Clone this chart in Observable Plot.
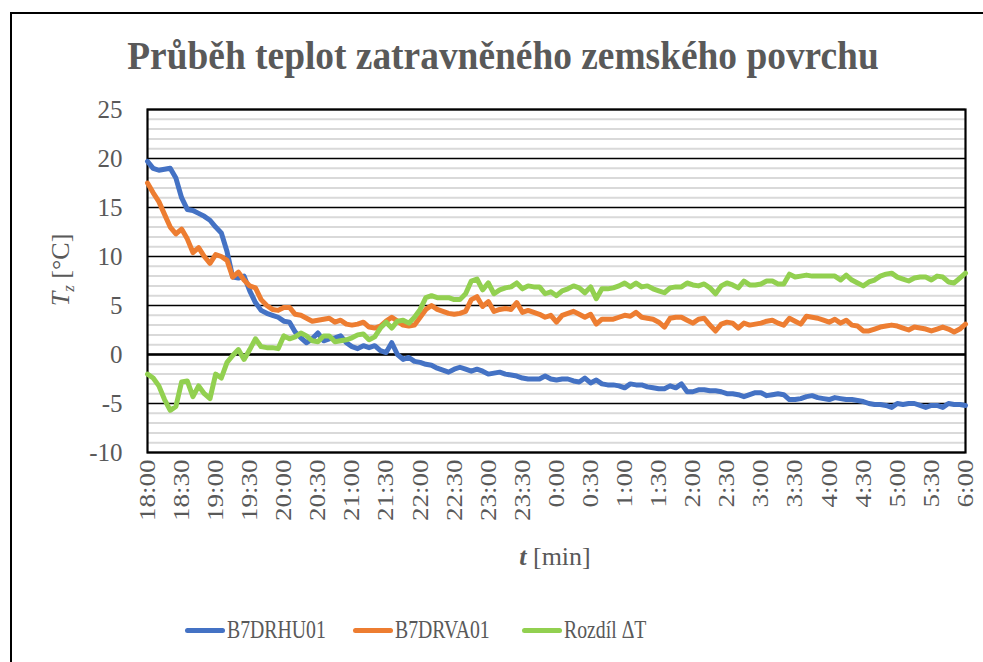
<!DOCTYPE html>
<html>
<head>
<meta charset="utf-8">
<script src="https://cdn.jsdelivr.net/npm/d3@7"></script>
<script src="https://cdn.jsdelivr.net/npm/@observablehq/plot@0.6"></script>
<style>
  body { margin: 0; background: #fff; }
  #wrap { position: relative; width: 983px; height: 662px; overflow: hidden; font-family: "Liberation Serif", "Times New Roman", serif; color: #595959; }
  #wrap svg { position: absolute; left: 0; top: 0; }
  #border { position: absolute; left: 10px; top: 12px; width: 1000px; height: 700px; border: 2.5px solid #000; box-sizing: border-box; }
  #title { position: absolute; left: 0; width: 1006px; top: 35px; text-align: center; font-weight: bold; font-size: 40px; line-height: 42px; white-space: nowrap; transform: scaleX(0.935); transform-origin: 503px 0; }
  #ylabel { position: absolute; left: 62px; top: 270px; transform: translate(-50%, -50%) rotate(-90deg); font-size: 26px; white-space: nowrap; }
  #ylabel sub { font-size: 17px; vertical-align: -5px; }
  #xlabel { position: absolute; left: 555px; top: 542px; transform: translateX(-50%); font-size: 26px; white-space: nowrap; }
  .leg { position: absolute; top: 615px; height: 30px; }
  .leg .sw { position: absolute; left: 0; top: 13px; width: 40px; height: 5px; border-radius: 3px; }
  .leg .lab { position: absolute; left: 42px; top: 0; font-size: 26px; line-height: 30px; white-space: nowrap; transform: scaleX(0.76); transform-origin: 0 0; }
</style>
</head>
<body>
<div id="wrap">
  <div id="border"></div>
  <div id="title"></div>
  <div id="ylabel"><i>T</i><sub><i>z</i></sub> [°C]</div>
  <div id="xlabel"><b><i>t</i></b> [min]</div>
</div>
<script>
const titleText = "Průběh teplot zatravněného zemského povrchu";
const seriesNames = ["B7DRHU01", "B7DRVA01", "Rozdíl ΔT"];
const seriesColors = ["#4472C4", "#ED7D31", "#92D050"];
const tickLabels = ["18:00","18:30","19:00","19:30","20:00","20:30","21:00","21:30","22:00","22:30","23:00","23:30","0:00","0:30","1:00","1:30","2:00","2:30","3:00","3:30","4:00","4:30","5:00","5:30","6:00"];
const yMajor = [-10, -5, 0, 5, 10, 15, 20, 25];

// minutes after 18:00, one reading every 5 minutes
const minutes = d3.range(0, 721, 5);

const b7drhu01 = [
  19.7, 19.0, 18.8, 18.9, 19.0, 18.0, 16.0, 14.8, 14.7, 14.4,
  14.1, 13.7, 13.0, 12.4, 10.5, 7.9, 7.8, 8.0, 6.5, 5.3,
  4.5, 4.2, 4.0, 3.8, 3.4, 3.3, 2.3, 1.7, 1.2, 1.6,
  2.2, 1.4, 1.6, 1.7, 1.9, 1.2, 0.8, 0.6, 0.9, 0.7,
  0.9, 0.4, 0.2, 1.2, 0.0, -0.5, -0.3, -0.7, -0.8, -1.0,
  -1.1, -1.4, -1.6, -1.8, -1.5, -1.3, -1.5, -1.7, -1.5, -1.7,
  -2.0, -1.9, -1.8, -2.0, -2.1, -2.2, -2.4, -2.5, -2.5, -2.5,
  -2.2, -2.5, -2.6, -2.5, -2.5, -2.7, -2.8, -2.4, -2.9, -2.6,
  -3.0, -3.1, -3.1, -3.2, -3.4, -3.0, -3.1, -3.1, -3.3, -3.4,
  -3.5, -3.5, -3.2, -3.4, -3.0, -3.8, -3.8, -3.6, -3.6, -3.7,
  -3.7, -3.8, -4.0, -4.0, -4.1, -4.3, -4.1, -3.9, -3.9, -4.2,
  -4.1, -4.0, -4.1, -4.6, -4.6, -4.5, -4.3, -4.2, -4.4, -4.5,
  -4.6, -4.4, -4.5, -4.6, -4.6, -4.7, -4.8, -5.0, -5.1, -5.1,
  -5.2, -5.4, -5.0, -5.1, -5.0, -5.0, -5.2, -5.4, -5.2, -5.2,
  -5.4, -5.0, -5.1, -5.1, -5.2
];

const b7drva01 = [
  17.5, 16.5, 15.6, 14.3, 13.0, 12.3, 12.8, 11.8, 10.4, 10.9,
  10.0, 9.3, 10.2, 10.0, 9.6, 7.9, 8.4, 7.6, 7.0, 6.8,
  5.6, 5.0, 4.6, 4.5, 4.8, 4.8, 4.1, 4.0, 3.7, 3.4,
  3.5, 3.6, 3.7, 3.3, 3.5, 3.1, 3.0, 3.1, 3.3, 2.8,
  2.7, 2.9, 3.4, 3.8, 3.4, 3.0, 2.9, 3.0, 3.8, 4.6,
  5.0, 4.6, 4.4, 4.2, 4.1, 4.2, 4.4, 5.6, 5.9, 4.9,
  5.4, 4.4, 4.6, 4.7, 4.6, 5.3, 4.3, 4.5, 4.3, 4.1,
  3.8, 4.0, 3.3, 4.0, 4.2, 4.4, 4.1, 3.8, 4.1, 3.1,
  3.6, 3.6, 3.6, 3.8, 4.0, 3.9, 4.3, 3.8, 3.7, 3.6,
  3.3, 2.8, 3.7, 3.8, 3.8, 3.5, 3.2, 3.6, 3.7, 3.0,
  2.4, 3.1, 3.3, 3.2, 2.7, 3.2, 3.0, 3.1, 3.2, 3.4,
  3.5, 3.2, 3.0, 3.7, 3.4, 3.1, 3.9, 3.8, 3.7, 3.5,
  3.3, 3.6, 3.2, 3.5, 3.0, 2.9, 2.4, 2.4, 2.6, 2.8,
  2.9, 3.0, 2.9, 2.7, 2.5, 2.8, 2.7, 2.6, 2.4, 2.6,
  2.8, 2.6, 2.3, 2.6, 3.1
];

const rozdil = [
  -2.0, -2.4, -3.2, -4.6, -5.7, -5.3, -2.8, -2.7, -4.3, -3.2,
  -4.0, -4.5, -2.0, -2.4, -0.8, -0.1, 0.5, -0.5, 0.5, 1.6,
  0.8, 0.7, 0.7, 0.6, 1.9, 1.6, 1.8, 2.2, 1.9, 1.4,
  1.3, 1.9, 1.9, 1.3, 1.4, 1.5, 1.7, 2.0, 2.1, 1.5,
  1.8, 2.7, 3.3, 2.7, 3.4, 3.5, 3.2, 3.8, 4.6, 5.8,
  6.0, 5.8, 5.8, 5.8, 5.6, 5.6, 6.2, 7.5, 7.7, 6.6,
  7.3, 6.2, 6.6, 6.8, 6.9, 7.3, 6.7, 7.0, 6.9, 6.9,
  6.2, 6.4, 6.0, 6.5, 6.7, 7.0, 6.8, 6.3, 6.9, 5.7,
  6.7, 6.7, 6.8, 7.0, 7.3, 6.9, 7.3, 6.9, 7.0, 6.7,
  6.5, 6.3, 6.8, 6.9, 6.9, 7.3, 7.1, 7.0, 7.2, 6.8,
  6.2, 7.0, 7.3, 7.1, 6.8, 7.5, 7.1, 7.1, 7.2, 7.5,
  7.5, 7.2, 7.2, 8.2, 7.9, 8.0, 8.1, 8.0, 8.0, 8.0,
  8.0, 8.0, 7.6, 8.1, 7.6, 7.3, 7.0, 7.4, 7.6, 8.0,
  8.2, 8.3, 7.9, 7.7, 7.5, 7.8, 7.9, 7.9, 7.6, 8.0,
  7.9, 7.4, 7.3, 7.8, 8.3
];

const seriesValues = [b7drhu01, b7drva01, rozdil];
const rows = [];
seriesNames.forEach((name, s) => {
  minutes.forEach((m, i) => rows.push({ t: m, v: seriesValues[s][i], series: name }));
});

const xTicks = tickLabels.map((_, i) => i * 30);
const yMinor = d3.range(-10, 26, 1).filter(v => v % 5 !== 0);

const chart = Plot.plot({
  width: 983,
  height: 662,
  marginLeft: 147,
  marginRight: 18,
  marginTop: 109,
  marginBottom: 210,
  style: { fontFamily: "'Liberation Serif', 'Times New Roman', serif", color: "#595959", background: "transparent", overflow: "visible" },
  x: { domain: [0, 720] },
  y: { domain: [-10, 25] },
  color: { domain: seriesNames, range: seriesColors },
  marks: [
    Plot.ruleY(yMinor, { stroke: "#d9d9d9", strokeWidth: 2 }),
    Plot.ruleY(yMajor, { stroke: "#000", strokeWidth: 1.6 }),
    Plot.ruleY([0], { stroke: "#000", strokeWidth: 2.6 }),
    Plot.frame({ stroke: "#000", strokeWidth: 2.2 }),
    Plot.axisY(yMajor, { tickSize: 0, tickPadding: 25, fontSize: 25, label: null, tickFormat: d => String(d) }),
    Plot.axisX(xTicks, { tickSize: 0, tickPadding: 7, tickRotate: -90, fontSize: 27, label: null,
      tickFormat: d => tickLabels[Math.round(d / 30)] }),
    Plot.lineY(rows, { x: "t", y: "v", z: "series", stroke: "series", strokeWidth: 5, strokeLinejoin: "round", strokeLinecap: "round" })
  ]
});

// narrow the rotated time labels horizontally, as in the reference
d3.select(chart).selectAll("g[aria-label='x-axis tick label'] text").each(function () {
  const tr = this.getAttribute("transform");
  if (tr) this.setAttribute("transform", tr + " scale(1,0.85)");
});

const wrap = document.getElementById("wrap");
wrap.insertBefore(chart, wrap.firstChild);
document.getElementById("title").textContent = titleText;

const legendLeft = [185, 353, 522];
seriesNames.forEach((name, i) => {
  const item = document.createElement("div");
  item.className = "leg";
  item.style.left = legendLeft[i] + "px";
  const sw = document.createElement("span");
  sw.className = "sw";
  sw.style.background = seriesColors[i];
  const lab = document.createElement("span");
  lab.className = "lab";
  lab.textContent = name;
  item.appendChild(sw);
  item.appendChild(lab);
  wrap.appendChild(item);
});
</script>
</body>
</html>
